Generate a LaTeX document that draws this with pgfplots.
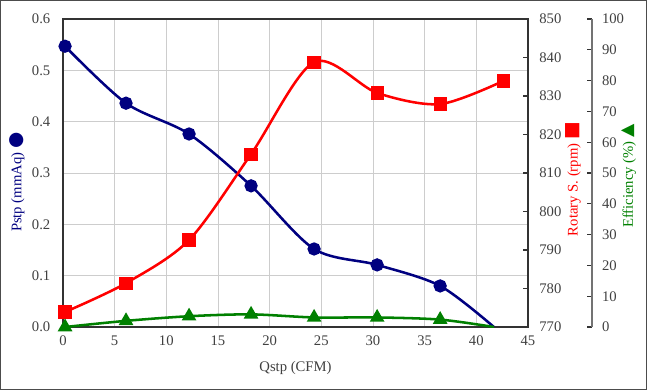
\documentclass[border=0pt]{standalone}
\usepackage{fontspec}
\setmainfont{Liberation Serif}
\newfontfamily\sym{DejaVu Sans}
\usepackage{pgfplots}
\pgfplotsset{compat=1.18}
\definecolor{cblue}{RGB}{0,0,128}
\definecolor{cred}{RGB}{255,0,0}
\definecolor{cgreen}{RGB}{0,128,0}
\definecolor{txt}{RGB}{64,64,64}
\definecolor{gridc}{RGB}{205,205,205}
\pgfplotsset{
  common/.style={
    scale only axis,
    width=348.75pt, height=231pt,
    xmin=0, xmax=45,
    /pgf/number format/assume math mode=true,
    tick label style={font=\fontsize{11}{13}\selectfont, text=txt},
    label style={font=\fontsize{11}{13}\selectfont},
  }
}
\begin{document}
\begin{tikzpicture}[font=\fontsize{11}{13}\selectfont]
\draw[black!70, line width=0.8pt] (-47.25pt+0.4pt,-47.25pt+0.4pt) rectangle (438pt-0.4pt,245.25pt-0.4pt);

% Left axis: Pstp
\begin{axis}[common,
  ymin=0, ymax=0.6,
  xtick={0,5,10,15,20,25,30,35,40,45},
  ytick={0,0.1,0.2,0.3,0.4,0.5,0.6},
  grid=major, grid style={gridc, line width=0.6pt},
  axis line style={black!80, line width=0.8pt},
  major tick length=0pt,
  yticklabel style={/pgf/number format/.cd, fixed, fixed zerofill, precision=1, /tikz/.cd, xshift=-6pt},
  xticklabel style={yshift=-3pt},
  xlabel={Qstp (CFM)},
  xlabel style={at={(axis description cs:0.5,-0.133)}, anchor=center, text=txt},
  ylabel={Pstp (mmAq) {\sym\fontsize{14}{14}\selectfont ●}},
  ylabel style={at={(axis description cs:-0.099,0.47)}, anchor=center, text=cblue},
]
\addplot[cblue, line width=1.9pt, smooth, tension=0.5, mark=*, mark size=4pt,
  mark indices={1,2,3,4,5,6,7}, mark options={solid, fill=cblue}]
  coordinates {(0.2,0.547) (6.1,0.436) (12.2,0.376) (18.2,0.275) (24.3,0.152) (30.4,0.121) (36.5,0.080) (41.7,0)};
\end{axis}

% Right axis: Rotary speed
\begin{axis}[common,
  ymin=770, ymax=850,
  ytick={770,780,790,800,810,820,830,840,850},
  axis y line*=right, axis x line=none,
  axis line style={black!80, line width=0.8pt},
  tick align=inside, major tick length=3.75pt,
  ytick style={black!80, line width=0.8pt},
  yticklabel style={xshift=5pt},
  ylabel={Rotary S. (rpm) {\sym\fontsize{14}{14}\selectfont ■}},
  ylabel style={at={(axis description cs:1.097,0.48)}, anchor=center, text=cred},
]
\addplot[cred, line width=1.9pt, smooth, tension=0.5, mark=square*, mark size=4pt, mark options={solid, fill=cred}]
  coordinates {(0.2,773.9) (6.1,781.4) (12.2,792.6) (18.2,814.9) (24.3,838.8) (30.4,830.8) (36.5,827.9) (42.6,833.9)};
\end{axis}

% Efficiency axis (offset)
\begin{axis}[common,
  ymin=0, ymax=100,
  ytick={0,10,20,30,40,50,60,70,80,90,100},
  axis y line*=right, axis x line=none,
  y axis line style={xshift=48pt, black!55, line width=0.8pt},
  tick align=inside, major tick length=3.75pt,
  ytick style={xshift=48pt, black!80, line width=0.8pt},
  yticklabel style={xshift=52pt},
  ylabel={Efficiency (\%) {\sym\fontsize{13}{13}\selectfont ▲}},
  ylabel style={at={(axis description cs:1.217,0.49)}, anchor=center, text=cgreen},
]
\addplot[cgreen, line width=1.9pt, smooth, tension=0.5, mark=triangle*, mark size=4.5pt,
  mark indices={1,2,3,4,5,6,7}, mark options={solid, fill=cgreen}]
  coordinates {(0.2,0) (6.1,2.0) (12.2,3.5) (18.2,4.1) (24.3,3.1) (30.4,3.1) (36.5,2.4) (41.7,0)};
\end{axis}
\end{tikzpicture}
\end{document}
